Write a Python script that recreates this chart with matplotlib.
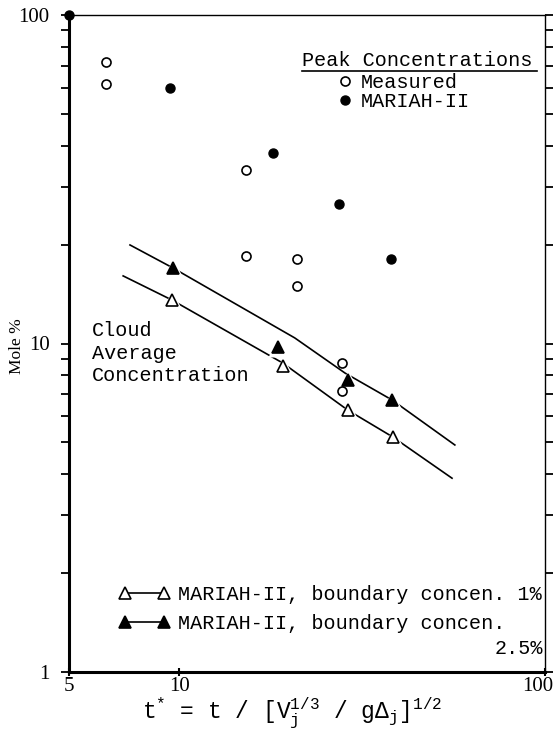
import matplotlib.pyplot as plt
import matplotlib.transforms as mtransforms
from matplotlib.lines import Line2D
from matplotlib.legend_handler import HandlerLine2D
from matplotlib.ticker import LogLocator, NullLocator, NullFormatter, FixedLocator

plt.rcParams['font.family'] = ['Liberation Mono', 'DejaVu Sans Mono']
plt.rcParams['mathtext.fontset'] = 'custom'
plt.rcParams['mathtext.rm'] = 'Liberation Mono'
plt.rcParams['mathtext.it'] = 'Liberation Mono'

# peak concentrations
meas_t = [6.31, 6.31, 15.2, 15.2, 21.0, 21.0, 27.9, 27.9]
meas_c = [71.9, 61.7, 33.7, 18.5, 18.1, 15.0, 8.72, 7.17]
mariah_t = [5.0, 9.44, 18.06, 27.35, 37.95]
mariah_c = [100.0, 60.0, 38.0, 26.6, 18.1]

# cloud average concentration, boundary 1% (open) and 2.5% (filled)
tri1_t = [9.56, 19.2, 28.9, 38.4]
tri1_c = [13.56, 8.54, 6.27, 5.19]
tri25_t = [9.62, 18.6, 28.9, 38.2]
tri25_c = [16.98, 9.76, 7.74, 6.73]

# curves through the cloud average points
curve1_t = [7.03, 9.56, 19.2, 28.9, 38.4, 55.7]
curve1_c = [16.06, 13.56, 8.72, 6.27, 5.19, 3.89]
curve25_t = [7.34, 9.62, 20.7, 28.4, 38.2, 56.7]
curve25_c = [19.95, 16.98, 10.4, 8.13, 6.73, 4.91]

x_ticks = [5, 10, 100]
y_ticks = [1, 10, 100]

fig = plt.figure(figsize=(5.59, 7.36), dpi=100)
ax = fig.add_axes([69/559, 1-672/736, 476/559, 657/736])
ax.set_xscale('log')
ax.set_yscale('log')
ax.set_xlim(5, 100)
ax.set_ylim(1, 100)

# curves, with white masks so the line breaks around each triangle
ax.plot(curve1_t, curve1_c, color='k', lw=1.2, zorder=2)
ax.plot(curve25_t, curve25_c, color='k', lw=1.2, zorder=2)
ax.plot(tri1_t, tri1_c, ls='none', marker='^', ms=14, mfc='white', mec='none', zorder=3)
ax.plot(tri25_t, tri25_c, ls='none', marker='^', ms=14, mfc='white', mec='none', zorder=3)
ax.plot(tri1_t, tri1_c, ls='none', marker='^', ms=8, mfc='white', mec='k', mew=1.2, zorder=4)
ax.plot(tri25_t, tri25_c, ls='none', marker='^', ms=8, mfc='k', mec='k', mew=1.2, zorder=4)

ax.plot(meas_t, meas_c, ls='none', marker='o', ms=6.5, mfc='white', mec='k', mew=1.2, zorder=5)
ax.plot(mariah_t, mariah_c, ls='none', marker='o', ms=6.5, mfc='k', mec='k', zorder=5, clip_on=False)

# axes styling
for side in ['left', 'bottom']:
    ax.spines[side].set_linewidth(2.2)
for side in ['top', 'right']:
    ax.spines[side].set_linewidth(1.0)

ax.xaxis.set_major_locator(FixedLocator(x_ticks))
ax.xaxis.set_minor_locator(NullLocator())
ax.set_xticklabels([str(v) for v in x_ticks], family='Liberation Serif', fontsize=15)
ax.tick_params(axis='x', which='major', direction='inout', length=6, width=1.5, pad=0.5)
# pull the "100" label in a little so it stays inside the figure
lab100 = ax.get_xticklabels()[-1]
lab100.set_transform(lab100.get_transform() +
                     mtransforms.ScaledTranslation(-7/100, 0, fig.dpi_scale_trans))

ax.yaxis.set_major_locator(FixedLocator(y_ticks))
ax.yaxis.set_minor_locator(LogLocator(base=10, subs=range(2, 10)))
ax.yaxis.set_minor_formatter(NullFormatter())
ax.set_yticklabels([str(v) for v in y_ticks], family='Liberation Serif', fontsize=15)
ax.tick_params(axis='y', which='both', direction='out', left=True, right=True,
               length=6, width=1.3, pad=8)

# texts
ax.text(0.4895, 0.9315, 'Peak Concentrations', transform=ax.transAxes,
        fontsize=14.5, ha='left', va='center')
ax.plot([0.4895, 0.983], [0.9148, 0.9148], transform=ax.transAxes, color='k', lw=1.2)

peak_handles = [Line2D([], [], ls='none', marker='o', ms=6.5, mfc='white', mec='k', mew=1.2),
                Line2D([], [], ls='none', marker='o', ms=6.5, mfc='k', mec='k')]
leg1 = ax.legend(peak_handles, ['Measured', 'MARIAH-II'], loc='upper left',
                 bbox_to_anchor=(0.563, 0.912), frameon=False, fontsize=14.5,
                 handlelength=0.8, handletextpad=0.4, labelspacing=0.0,
                 borderpad=0, borderaxespad=0)
ax.add_artist(leg1)

ax.text(0.0483, 0.534, 'Cloud\nAverage\nConcentration', transform=ax.transAxes,
        fontsize=14.5, ha='left', va='top', linespacing=1.24)

h1 = Line2D([], [], color='k', lw=1.2, marker='^', ms=8, mfc='white', mec='k', mew=1.2)
h25 = Line2D([], [], color='k', lw=1.2, marker='^', ms=8, mfc='k', mec='k', mew=1.2)
ax.legend([h1, h25], ['MARIAH-II, boundary concen. 1%', 'MARIAH-II, boundary concen.'],
          loc='upper left', bbox_to_anchor=(0.118, 0.133), frameon=False, fontsize=14.5,
          handlelength=1.94, handletextpad=0.7, labelspacing=0.5,
          borderpad=0, borderaxespad=0,
          handler_map={h1: HandlerLine2D(marker_pad=0, numpoints=2),
                       h25: HandlerLine2D(marker_pad=0, numpoints=2)})
ax.text(0.997, 0.0365, '2.5%', transform=ax.transAxes, fontsize=14.5,
        ha='right', va='center')

fig.text(17/559, 1-346/736, 'Mole %', rotation=90, fontsize=12.5,
         family='Liberation Serif', ha='center', va='center')
fig.text(292/559, 1-713/736, r't$^{*}$ = t / [V$_{\rm j}^{1/3}$ / g$\Delta_{\rm j}$]$^{1/2}$',
         fontsize=16.5, ha='center', va='center')

fig.savefig('out.png', dpi=100)
